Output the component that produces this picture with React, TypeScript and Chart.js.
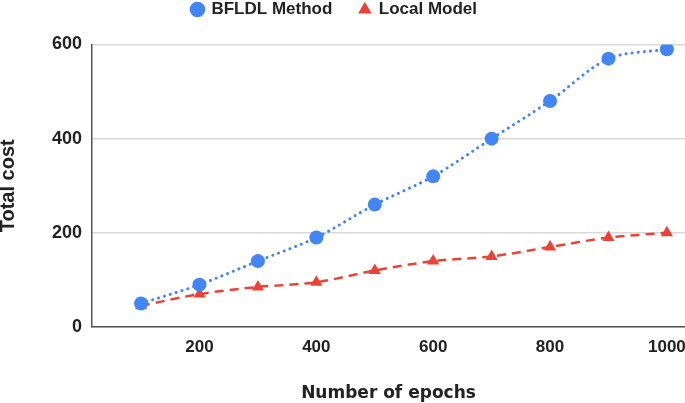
import React, { useEffect, useRef } from "react";
import { Chart, registerables } from "chart.js";

Chart.register(...registerables);

const epochs = [100, 200, 300, 400, 500, 600, 700, 800, 900, 1000];
const bfldlCost = [50, 90, 140, 190, 260, 320, 400, 480, 570, 590];
const localCost = [45, 70, 85, 95, 120, 140, 150, 170, 190, 200];
const xTicks = [200, 400, 600, 800, 1000];
const yTicks = [0, 200, 400, 600];

const BLUE = "#4285F4";
const RED = "#EA4335";
const TEXT = "#222222";
const SANS = "'Liberation Sans', Arial, sans-serif";

export default function App() {
  const ref = useRef<HTMLCanvasElement | null>(null);

  useEffect(() => {
    if (!ref.current) return;
    const legendFit = {
      id: "legendFit",
      beforeInit(chart: any) {
        const orig = chart.legend.fit;
        chart.legend.fit = function () {
          orig.call(this);
          this.height = 70.5;
        };
      },
      afterLayout(chart: any) {
        const lg = chart.legend;
        if (lg) {
          lg.left -= 8;
          lg.right -= 8;
        }
      },
    };
    const chart = new Chart(ref.current, {
      type: "line",
      data: {
        datasets: [
          {
            label: "BFLDL Method",
            data: epochs.map((x, i) => ({ x, y: bfldlCost[i] })),
            borderColor: BLUE,
            backgroundColor: BLUE,
            borderWidth: 3,
            borderDash: [0.1, 6],
            borderCapStyle: "round",
            pointStyle: "circle",
            pointRadius: 7,
            pointBorderWidth: 0,
            pointBackgroundColor: BLUE,
            tension: 0.3,
          },
          {
            label: "Local Model",
            data: epochs.map((x, i) => ({ x, y: localCost[i] })),
            borderColor: RED,
            backgroundColor: RED,
            borderWidth: 2.5,
            borderDash: [9, 6],
            pointStyle: "triangle",
            pointRadius: 7,
            pointBorderWidth: 0,
            pointBackgroundColor: RED,
            tension: 0.3,
          },
        ],
      },
      options: {
        animation: false,
        responsive: false,
        layout: { autoPadding: false, padding: { top: -26, left: 0, right: 0, bottom: 0 } },
        plugins: {
          tooltip: { enabled: false },
          legend: {
            position: "top",
            align: "center",
            labels: {
              usePointStyle: true,
              boxHeight: 11,
              boxWidth: 11,
              padding: 27,
              color: TEXT,
              font: { family: SANS, size: 17, weight: "bold" },
            },
          },
        },
        scales: {
          x: {
            type: "linear",
            min: 16,
            max: 1031,
            afterBuildTicks(scale: any) {
              scale.ticks = xTicks.map((v) => ({ value: v }));
            },
            afterFit(scale: any) {
              scale.height = 76;
              scale.paddingLeft = 0;
              scale.paddingRight = 0;
            },
            grid: { display: false, drawTicks: false },
            border: { display: true, color: "#555555", width: 1.5 },
            ticks: {
              padding: 10,
              color: TEXT,
              maxRotation: 0,
              callback: (v: any) => String(v),
              font: { family: SANS, size: 17, weight: "bold" },
            },
            title: {
              display: true,
              text: "Number of epochs",
              color: TEXT,
              padding: { top: 0, bottom: 0 },
              font: { family: "'DejaVu Sans', Verdana, sans-serif", size: 17, weight: "bold", lineHeight: 1.05 },
            },
          },
          y: {
            type: "linear",
            min: 0,
            max: 600,
            afterBuildTicks(scale: any) {
              scale.ticks = yTicks.map((v) => ({ value: v }));
            },
            afterFit(scale: any) {
              scale.width = 92;
              scale.paddingTop = 0;
              scale.paddingBottom = 0;
            },
            grid: { color: "#d9d9d9", lineWidth: 1.5, drawTicks: false },
            border: { display: true, color: "#555555", width: 1.5 },
            ticks: {
              padding: 10,
              color: TEXT,
              callback: (v: any) => String(v),
              font: { family: SANS, size: 18, weight: "bold" },
            },
            title: {
              display: true,
              text: "Total cost",
              color: TEXT,
              padding: 0,
              font: { family: SANS, size: 20, weight: "bold", lineHeight: 0.85 },
            },
          },
        },
      },
      plugins: [legendFit],
    });
    return () => chart.destroy();
  }, []);

  return (
    <div style={{ position: "fixed", left: 0, top: 0, width: 685, height: 403, background: "#fff" }}>
      <canvas ref={ref} width={685} height={403} style={{ display: "block", width: 685, height: 403 }} />
    </div>
  );
}
